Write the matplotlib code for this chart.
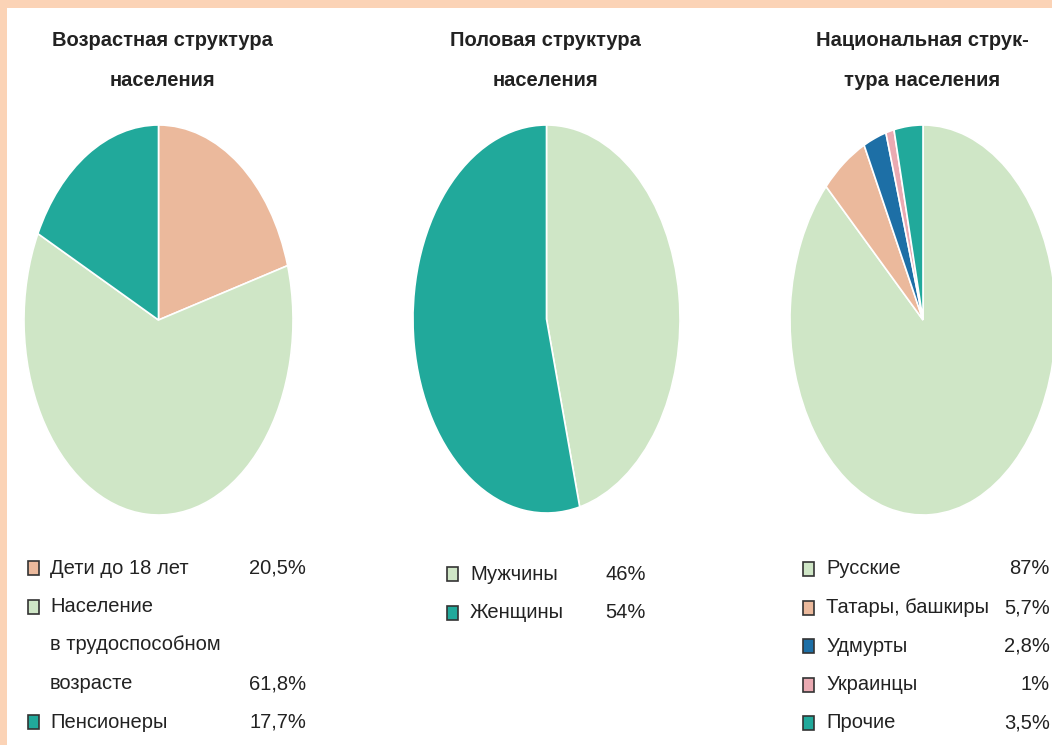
import matplotlib
matplotlib.use("Agg")
import matplotlib.pyplot as plt
from matplotlib.patches import Rectangle

# --- data ---
age_labels = ["Дети до 18 лет", "Население\nв трудоспособном\nвозрасте", "Пенсионеры"]
age_values = [20.5, 61.8, 17.7]
age_texts = ["20,5%", "61,8%", "17,7%"]

sex_labels = ["Мужчины", "Женщины"]
sex_values = [46, 54]
sex_texts = ["46%", "54%"]

nat_labels = ["Русские", "Татары, башкиры", "Удмурты", "Украинцы", "Прочие"]
nat_values = [87, 5.7, 2.8, 1, 3.5]
nat_texts = ["87%", "5,7%", "2,8%", "1%", "3,5%"]

titles = ["Возрастная структура\nнаселения", "Половая структура\nнаселения",
          "Национальная струк-\nтура населения"]

GREEN, PEACH, TEAL, BLUE, PINK = "#cfe6c6", "#ebb99c", "#21a99b", "#1d6fa6", "#eaaab2"
age_colors = [PEACH, GREEN, TEAL]
sex_colors = [GREEN, TEAL]
nat_colors = [GREEN, PEACH, BLUE, PINK, TEAL]

plt.rcParams["font.family"] = ["Liberation Sans Narrow", "Liberation Sans", "DejaVu Sans"]

W, H = 1052, 745
fig = plt.figure(figsize=(W / 100, H / 100), dpi=100)
fig.patch.set_facecolor("#fbd3b6")
fig.patches.append(Rectangle((7 / W, 0), 1, 1 - 8 / H, transform=fig.transFigure,
                             facecolor="white", edgecolor="none", zorder=-5))


def px(x, y):
    return x / W, 1 - y / H


def pie(x0, x1, y0, y1, values, colors):
    ax = fig.add_axes([x0 / W, 1 - y1 / H, (x1 - x0) / W, (y1 - y0) / H])
    ax.pie(values, colors=colors, startangle=90, counterclock=False,
           wedgeprops=dict(edgecolor="white", linewidth=1.2))
    ax.set_aspect("auto")
    ax.set_xlim(-1, 1); ax.set_ylim(-1, 1)
    ax.axis("off")


pie(24, 293, 125, 515, age_values, age_colors)
pie(413, 680, 125, 513, sex_values, sex_colors)
pie(790, 1056, 125, 515, nat_values, nat_colors)

for cx, t in zip([162, 545, 922], titles):
    for k, line in enumerate(t.split("\n")):
        fig.text(*px(cx, 40 + 40 * k), line, ha="center", va="center", fontsize=14.5,
                 fontweight="bold", color="#222222")

STEP = 38.5


def legend(mx, tx, vx, y0, labels, colors, texts):
    y = y0
    for lab, c, v in zip(labels, colors, texts):
        fig.patches.append(Rectangle(px(mx - 5, y + 7), 11 / W, 14 / H, transform=fig.transFigure,
                                     facecolor=c, edgecolor="#333333", linewidth=1.2))
        lines = lab.split("\n")
        for k, line in enumerate(lines):
            fig.text(*px(tx, y + k * STEP), line, ha="left", va="center", fontsize=14.5,
                     color="#222222")
        fig.text(*px(vx, y + (len(lines) - 1) * STEP), v, ha="right", va="center",
                 fontsize=14.5, color="#222222")
        y += len(lines) * STEP


legend(33, 50, 306, 568, age_labels, age_colors, age_texts)
legend(452, 470, 646, 574, sex_labels, sex_colors, sex_texts)
legend(808, 826, 1050, 569, nat_labels, nat_colors, nat_texts)

fig.savefig("out.png", dpi=100)
